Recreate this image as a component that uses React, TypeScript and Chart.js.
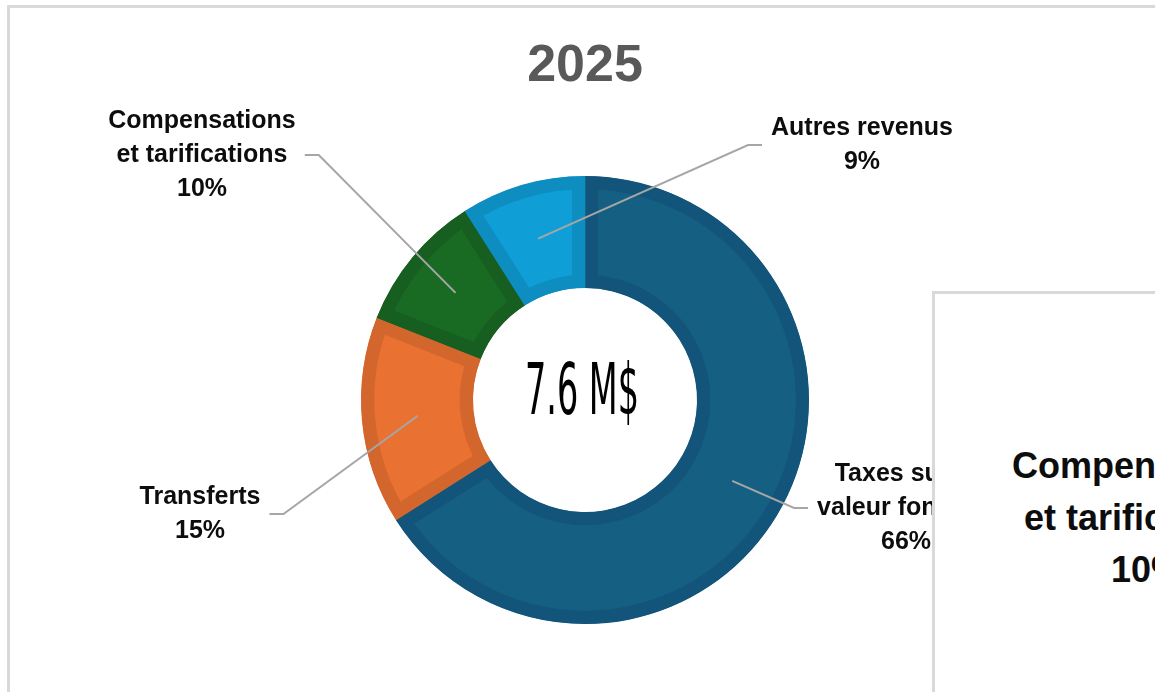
import React, { useEffect, useRef } from "react";
import { Chart, registerables } from "chart.js";

Chart.register(...registerables);

// ---- data ----
const categories = [
  "Taxes sur la valeur foncière",
  "Transferts",
  "Compensations et tarifications",
  "Autres revenus",
];
const labelLines = [
  ["Taxes sur la", "valeur foncière"],
  ["Transferts"],
  ["Compensations", "et tarifications"],
  ["Autres revenus"],
];
const shares = [66, 15, 10, 9];
const chartTitle = "2025";
const totalLabel = "7.6 M$";
const sideLabelLines = ["Compensations", "et tarifications", "10%"];

// ---- styles / layout ----
const fillColors = ["#156082", "#E97132", "#196B24", "#0F9ED5"];
const edgeColors = ["#13557A", "#D2662D", "#175F21", "#0E8DC0"];
// label block centres relative to the doughnut centre; side = where the label sits relative to its leader
const labelAnchors = [
  { dx: 321, dy: 108, side: 1 },
  { dx: -385, dy: 114, side: -1 },
  { dx: -383, dy: -245, side: -1 },
  { dx: 277, dy: -255, side: 1 },
];
const LABEL_FONT = 'bold 25px "Liberation Sans", Arial, sans-serif';
const LABEL_LINE = 34;

export default function App() {
  const ref = useRef<HTMLCanvasElement>(null);

  useEffect(() => {
    const canvas = ref.current!;
    const labelPlugin = {
      id: "excelLabels",
      afterDatasetsDraw(chart: any) {
        const ctx = chart.ctx as CanvasRenderingContext2D;
        const arcs = chart.getDatasetMeta(0).data;
        if (!arcs.length) return;
        const cx = arcs[0].x;
        const cy = arcs[0].y;
        ctx.save();
        ctx.font = LABEL_FONT;
        ctx.textAlign = "center";
        ctx.textBaseline = "middle";
        arcs.forEach((arc: any, i: number) => {
          const p = arc.getProps(["startAngle", "endAngle", "innerRadius", "outerRadius"], true);
          const mid = (p.startAngle + p.endAngle) / 2;
          const r = (p.innerRadius + p.outerRadius) / 2;
          const px = cx + Math.cos(mid) * r;
          const py = cy + Math.sin(mid) * r;
          const lines = [...labelLines[i], shares[i] + "%"];
          const a = labelAnchors[i];
          const lx = cx + a.dx;
          const ly = cy + a.dy;
          const w = Math.max(...lines.map((l) => ctx.measureText(l).width));
          const endX = a.side > 0 ? lx - w / 2 - 9 : lx + w / 2 + 9;
          const elbowX = endX - a.side * 14;
          ctx.strokeStyle = "#A6A6A6";
          ctx.lineWidth = 2;
          ctx.beginPath();
          ctx.moveTo(px, py);
          ctx.lineTo(elbowX, ly);
          ctx.lineTo(endX, ly);
          ctx.stroke();
          ctx.fillStyle = "#0d0d0d";
          lines.forEach((t, k) => {
            ctx.fillText(t, lx, ly + (k - (lines.length - 1) / 2) * LABEL_LINE);
          });
        });
        // centre total
        ctx.font = '72px "Liberation Sans Narrow", "DejaVu Sans Condensed", "Liberation Sans", sans-serif';
        ctx.textAlign = "left";
        ctx.textBaseline = "alphabetic";
        const tw = ctx.measureText(totalLabel).width;
        const targetW = 114;
        const sx = targetW / tw;
        ctx.translate(cx - 3 - targetW / 2, cy + 14);
        ctx.scale(sx, 1);
        ctx.fillStyle = "#000000";
        ctx.fillText(totalLabel, 0, 0);
        ctx.restore();
      },
    };

    const chart = new Chart(canvas, {
      type: "doughnut",
      data: {
        labels: categories,
        datasets: [
          {
            data: shares,
            backgroundColor: fillColors,
            borderColor: edgeColors,
            borderWidth: 13,
            borderAlign: "inner",
            borderJoinStyle: "miter",
            hoverOffset: 0,
          } as any,
        ],
      },
      options: {
        animation: false,
        responsive: false,
        cutout: "50%",
        layout: { padding: { left: 361, right: 346, top: 0, bottom: 68 } },
        plugins: {
          legend: { display: false },
          tooltip: { enabled: false },
          title: {
            display: true,
            text: chartTitle,
            color: "#595959",
            font: { family: '"Liberation Sans", Arial, sans-serif', size: 52, weight: "bold", lineHeight: 1.2 },
            padding: { top: 35, bottom: 78.6 },
          },
        },
      } as any,
      plugins: [labelPlugin],
    });
    return () => chart.destroy();
  }, []);

  return (
    <div
      style={{
        position: "fixed",
        left: 0,
        top: 0,
        width: 1155,
        height: 692,
        overflow: "hidden",
        background: "#ffffff",
      }}
    >
      <div
        style={{
          position: "absolute",
          left: 7,
          top: 5,
          width: 1300,
          height: 900,
          border: "3px solid #D9D9D9",
          background: "#ffffff",
          boxSizing: "border-box",
        }}
      />
      <canvas
        ref={ref}
        width={1155}
        height={692}
        style={{ position: "absolute", left: 0, top: 0, width: 1155, height: 692 }}
      />
      <div
        style={{
          position: "absolute",
          left: 932,
          top: 291,
          width: 430,
          height: 600,
          border: "3px solid #D9D9D9",
          background: "#ffffff",
          boxSizing: "border-box",
        }}
      >
        <div
          style={{
            position: "absolute",
            left: 0,
            right: 0,
            top: 146,
            textAlign: "center",
            font: 'bold 36px "Liberation Sans", Arial, sans-serif',
            lineHeight: "52px",
            color: "#0d0d0d",
          }}
        >
          {sideLabelLines.map((t) => (
            <div key={t}>{t}</div>
          ))}
        </div>
      </div>
    </div>
  );
}
